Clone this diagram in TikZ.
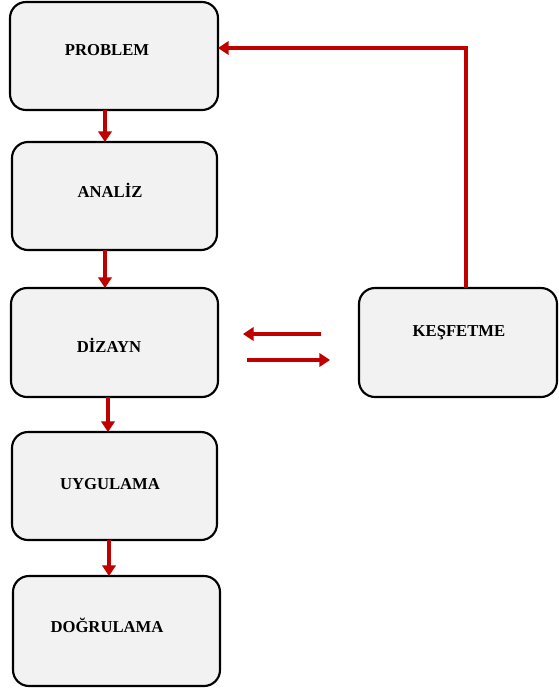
\documentclass[tikz,border=0pt]{standalone}
\usepackage{fontspec}
\setmainfont{Liberation Serif}
\usetikzlibrary{arrows.meta}
\definecolor{boxfill}{HTML}{F2F2F2}
\definecolor{flowred}{HTML}{C00000}
\tikzset{
  stage/.style={draw=black, line width=1.6pt, fill=boxfill, rounded corners=12pt},
  caption/.style={font=\bfseries\fontsize{12.5}{14}\selectfont, inner sep=0pt},
  flow/.style={draw=flowred, line width=3pt, -{Triangle[length=8pt,width=10pt]}}
}
\begin{document}
\begin{tikzpicture}[x=0.75pt,y=-0.75pt]
\useasboundingbox (0,0) rectangle (558,690);
% process boxes
\path[stage] (10,2) rectangle (218,110);
\path[stage] (12,142) rectangle (217,250);
\path[stage] (11,288) rectangle (218,397);
\path[stage] (12,432) rectangle (217,540);
\path[stage] (13,576) rectangle (220,686);
\path[stage] (359,288) rectangle (557,397);
% anchors on the box edges
\coordinate (pB) at (105,110); \coordinate (aT) at (105,142);
\coordinate (aB) at (105,250); \coordinate (dT) at (105,288);
\coordinate (dB) at (108,397); \coordinate (uT) at (108,432);
\coordinate (uB) at (109,540); \coordinate (gT) at (109,576);
\coordinate (pR) at (218,48);  \coordinate (kT) at (466,288);
\coordinate (corner) at (466,48);
\coordinate (l1) at (321,334); \coordinate (l2) at (243,334);
\coordinate (r1) at (247,360); \coordinate (r2) at (330,360);
% labels
\node[caption] (problem) at (107,50) {PROBLEM};
\node[caption] (analiz) at (110,190) {ANALİZ};
\node[caption] (dizayn) at (109,345) {DİZAYN};
\node[caption] (uygulama) at (110,484) {UYGULAMA};
\node[caption] (dogrulama) at (107,625) {DOĞRULAMA};
\node[caption] (kesfetme) at (459,333) {KEŞFETME};
% connectors
\draw[flow] (pB) -- (aT);
\draw[flow] (aB) -- (dT);
\draw[flow] (dB) -- (uT);
\draw[flow] (uB) -- (gT);
\draw[flow] (kT) -- (corner) -- (pR);
\draw[flow] (l1) -- (l2);
\draw[flow] (r1) -- (r2);
\end{tikzpicture}
\end{document}
